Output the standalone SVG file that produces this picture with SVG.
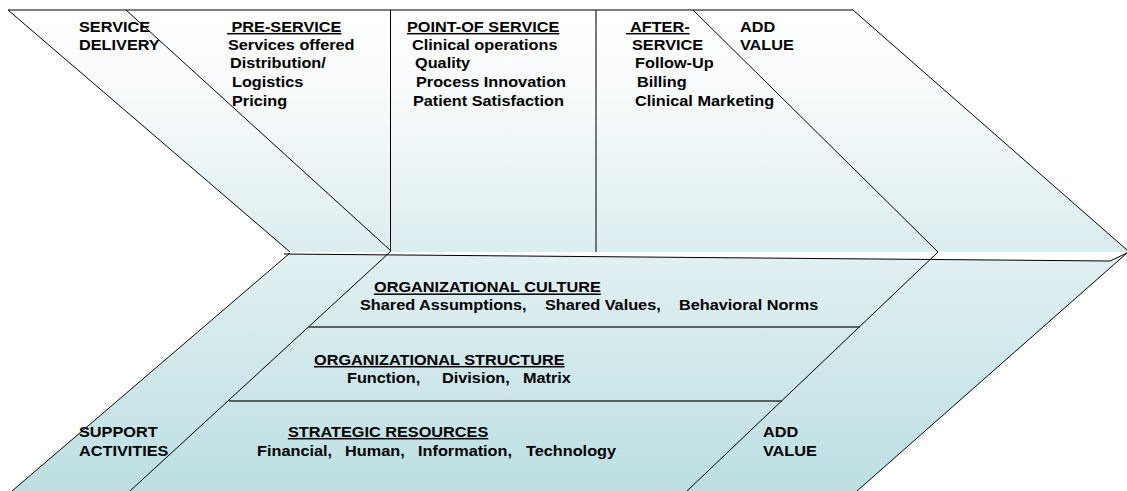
<svg xmlns="http://www.w3.org/2000/svg" width="1127" height="491" viewBox="0 0 1127 491">
<style>
text{font-family:"Liberation Sans",Arial,sans-serif;font-size:15px;font-weight:bold;fill:#000}
.u{text-decoration:underline}
.ln{stroke:#000;stroke-width:1;fill:none}
.hl{stroke:#333;stroke-width:1.3;fill:none}
</style>
<defs>
<linearGradient id="gTop" x1="0" y1="10" x2="0" y2="252" gradientUnits="userSpaceOnUse">
<stop offset="0" stop-color="#ffffff"/>
<stop offset="0.35" stop-color="#f8fbfc"/>
<stop offset="1" stop-color="#dcedef"/>
</linearGradient>
<linearGradient id="gBot" x1="0" y1="254" x2="0" y2="491" gradientUnits="userSpaceOnUse">
<stop offset="0" stop-color="#e2f0f2"/>
<stop offset="1" stop-color="#bcdfe2"/>
</linearGradient>
</defs>
<rect width="1127" height="491" fill="#fff"/>
<g id="top-band">
<polygon points="8,10 853,10 1127,250 1127,252 290,252" fill="url(#gTop)"/>
<line x1="8" y1="10" x2="853" y2="10" stroke="#555" stroke-width="1.5"/>
<line class="ln" x1="8" y1="10" x2="290" y2="252"/>
<line class="ln" x1="853" y1="10" x2="1127" y2="250"/>
<line class="ln" x1="126" y1="10" x2="390" y2="250"/>
<line class="ln" x1="390.5" y1="10" x2="390.5" y2="252"/>
<line x1="596" y1="10" x2="596" y2="252" stroke="#333" stroke-width="1.3"/>
<line class="ln" x1="693" y1="10" x2="938" y2="252"/>
</g>
<g id="bottom-band">
<polygon points="290,254 1110,261 1127,253 857,491 12,491" fill="url(#gBot)"/>
<polyline class="ln" points="284,254 1110,261 1127,253"/>
<line class="ln" x1="290" y1="253" x2="12" y2="491"/>
<line class="ln" x1="390" y1="252" x2="130" y2="491"/>
<line class="ln" x1="938" y1="252" x2="687" y2="491"/>
<line class="ln" x1="1127" y1="253" x2="857" y2="491"/>
<line class="hl" x1="309" y1="327" x2="860" y2="327"/>
<line class="hl" x1="229" y1="401" x2="782" y2="401"/>
</g>
<g transform="scale(1.085 1)">
<g id="service-delivery">
<text x="72.8" y="32">SERVICE</text>
<text x="72.8" y="50">DELIVERY</text>
</g>
<g id="pre-service">
<text x="209.2" y="32" class="u" xml:space="preserve"> PRE-SERVICE</text>
<text x="210.1" y="50">Services offered</text>
<text x="212" y="68.5">Distribution/</text>
<text x="213.8" y="87">Logistics</text>
<text x="213.8" y="106">Pricing</text>
</g>
<g id="point-of-service">
<text x="375.1" y="32" class="u">POINT-OF SERVICE</text>
<text x="379.7" y="50">Clinical operations</text>
<text x="382.5" y="68.5">Quality</text>
<text x="383.4" y="87">Process Innovation</text>
<text x="380.6" y="106">Patient Satisfaction</text>
</g>
<g id="after-service">
<text x="577" y="32" class="u" xml:space="preserve"> AFTER-</text>
<text x="582.5" y="50">SERVICE</text>
<text x="585.3" y="68.5">Follow-Up</text>
<text x="587.1" y="87">Billing</text>
<text x="585.3" y="106">Clinical Marketing</text>
</g>
<g id="add-value-top">
<text x="682" y="32">ADD</text>
<text x="682" y="50">VALUE</text>
</g>
<g id="org-culture">
<text x="344.7" y="292.5" class="u">ORGANIZATIONAL CULTURE</text>
<text x="331.8" y="310.5">Shared Assumptions,</text>
<text x="502.3" y="310.5">Shared Values,</text>
<text x="625.8" y="310.5">Behavioral Norms</text>
</g>
<g id="org-structure">
<text x="289.4" y="365" class="u">ORGANIZATIONAL STRUCTURE</text>
<text x="319.8" y="383">Function,</text>
<text x="407.4" y="383">Division,</text>
<text x="482" y="383">Matrix</text>
</g>
<g id="strategic-resources">
<text x="265.4" y="437" class="u">STRATEGIC RESOURCES</text>
<text x="236.9" y="456">Financial,</text>
<text x="318" y="456">Human,</text>
<text x="385.3" y="456">Information,</text>
<text x="484.8" y="456">Technology</text>
</g>
<g id="support-activities">
<text x="72.8" y="437">SUPPORT</text>
<text x="72.8" y="456">ACTIVITIES</text>
</g>
<g id="add-value-bottom">
<text x="703.2" y="437">ADD</text>
<text x="703.2" y="456">VALUE</text>
</g>
</g>
</svg>
